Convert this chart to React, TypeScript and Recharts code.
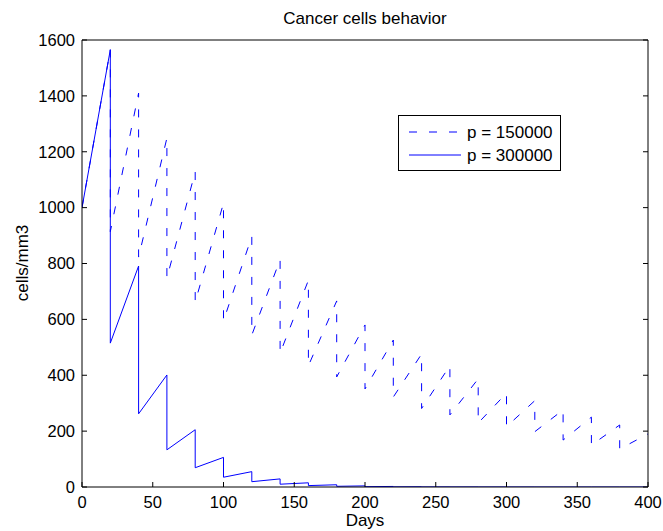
import { LineChart, Line, XAxis, YAxis } from "recharts";

// dose days: every 20 days the cell count drops
const doseDays = [0, 20, 40, 60, 80, 100, 120, 140, 160, 180, 200, 220, 240, 260, 280, 300, 320, 340, 360, 380, 400];

// p = 150000 (dashed): value right after each drop (days 0..380) and just before (days 20..400)
const lowTroughs = [1000, 914, 823, 748, 662, 595, 544, 479, 434, 394, 351, 322, 281, 258, 229, 216, 198, 168, 150, 136];
const lowPeaks = [1565, 1410, 1249, 1128, 1016, 897, 814, 740, 666, 580, 526, 476, 434, 387, 336, 309, 276, 250, 222, 190];

// p = 300000 (solid)
const highTroughs = [1000, 515, 262, 133, 69, 35, 19, 10, 5, 2.5, 1.2, 0.6, 0.3, 0.2, 0.1, 0, 0, 0, 0, 0];
const highPeaks = [1565, 791, 401, 205, 106, 55, 29, 15, 8, 4, 2, 1, 0.5, 0.3, 0.2, 0.1, 0, 0, 0, 0];

const xTicks = [0, 50, 100, 150, 200, 250, 300, 350, 400];
const yTicks = [0, 200, 400, 600, 800, 1000, 1200, 1400, 1600];

const seriesNames = ["p = 150000", "p = 300000"];

function buildSeries(troughs: number[], peaks: number[]) {
  const pts: { day: number; value: number }[] = [];
  troughs.forEach((t, i) => {
    pts.push({ day: doseDays[i], value: t });
    pts.push({ day: doseDays[i + 1], value: peaks[i] });
  });
  return pts;
}

const lowData = buildSeries(lowTroughs, lowPeaks);
const highData = buildSeries(highTroughs, highPeaks);

const FONT = "'Liberation Sans', Arial, Helvetica, sans-serif";
const BLUE = "#0000ff";
const DASH = "8 12";
const tickStyle = { fill: "#000", fontSize: 16.5, fontFamily: FONT };

export default function App() {
  return (
    <div style={{ position: "absolute", left: 0, top: 0, background: "#fff" }}>
      <LineChart
        width={663}
        height={531}
        margin={{ top: 30, right: 5, bottom: 14, left: 22 }}
      >
        <XAxis
          dataKey="day"
          type="number"
          domain={[0, 400]}
          ticks={xTicks}
          allowDataOverflow
          height={30}
          tickSize={-5}
          tickMargin={14}
          tick={tickStyle}
          stroke="#000"
          tickLine={{ stroke: "#000" }}
          axisLine={{ stroke: "#000" }}
        />
        <XAxis
          xAxisId="top"
          orientation="top"
          type="number"
          domain={[0, 400]}
          ticks={xTicks}
          allowDataOverflow
          height={10}
          tickSize={-5}
          tick={() => <g />}
          stroke="#000"
          tickLine={{ stroke: "#000" }}
          axisLine={{ stroke: "#000" }}
        />
        <YAxis
          type="number"
          domain={[0, 1600]}
          ticks={yTicks}
          allowDataOverflow
          width={60}
          tickSize={-5}
          tickMargin={12}
          tick={tickStyle}
          stroke="#000"
          tickLine={{ stroke: "#000" }}
          axisLine={{ stroke: "#000" }}
        />
        <YAxis
          yAxisId="right"
          orientation="right"
          type="number"
          domain={[0, 1600]}
          ticks={yTicks}
          allowDataOverflow
          width={10}
          tickSize={-5}
          tick={() => <g />}
          stroke="#000"
          tickLine={{ stroke: "#000" }}
          axisLine={{ stroke: "#000" }}
        />

        <Line
          data={lowData}
          dataKey="value"
          name={seriesNames[0]}
          type="linear"
          stroke={BLUE}
          strokeWidth={1}
          strokeDasharray={DASH}
          dot={false}
          isAnimationActive={false}
        />
        <Line
          data={highData}
          dataKey="value"
          name={seriesNames[1]}
          type="linear"
          stroke={BLUE}
          strokeWidth={1}
          dot={false}
          isAnimationActive={false}
        />

        {/* title + axis labels */}
        <text x={365} y={24} textAnchor="middle" fontSize={17} fontFamily={FONT} fill="#000">
          Cancer cells behavior
        </text>
        <text x={365} y={526} textAnchor="middle" fontSize={17} fontFamily={FONT} fill="#000">
          Days
        </text>
        <text
          x={28}
          y={263}
          textAnchor="middle"
          fontSize={17}
          fontFamily={FONT}
          fill="#000"
          transform="rotate(-90, 28, 263)"
        >
          cells/mm3
        </text>

        {/* legend box */}
        <g>
          <rect x={398.5} y={115.5} width={162} height={55} fill="#fff" stroke="#000" />
          <line x1={409} y1={132} x2={461} y2={132} stroke={BLUE} strokeDasharray={DASH} />
          <text x={467} y={138} fontSize={17} fontFamily={FONT} fill="#000">
            {seriesNames[0]}
          </text>
          <line x1={409} y1={155} x2={461} y2={155} stroke={BLUE} />
          <text x={467} y={161} fontSize={17} fontFamily={FONT} fill="#000">
            {seriesNames[1]}
          </text>
        </g>
      </LineChart>
    </div>
  );
}
